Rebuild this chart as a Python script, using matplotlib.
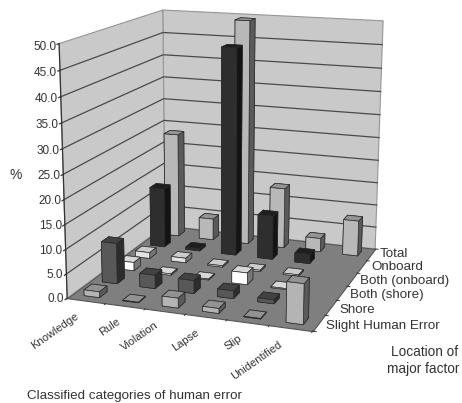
import matplotlib
matplotlib.use("Agg")
import matplotlib.pyplot as plt
import numpy as np
from mpl_toolkits.mplot3d.art3d import Poly3DCollection

plt.rcParams["font.family"] = ["Liberation Sans", "DejaVu Sans"]

W, H = 462, 403

categories = ["Knowledge", "Rule", "Violation", "Lapse", "Slip", "Unidentified"]
locations = ["Slight Human Error", "Shore", "Both (shore)", "Both (onboard)", "Onboard", "Total"]
z_ticks = [0, 5, 10, 15, 20, 25, 30, 35, 40, 45, 50]

slight = [1.2, 0.1, 2.0, 1.0, 0.1, 8.0]
shore = [8.5, 2.8, 2.7, 1.6, 0.8, 0.0]
both_shore = [1.8, 0.3, 0.2, 2.5, 0.2, 0.0]
both_onboard = [1.3, 1.0, 0.3, 0.3, 0.3, 0.0]
onboard = [13.2, 0.5, 45.0, 9.6, 2.0, 0.0]
total = [23.4, 4.8, 49.5, 13.4, 3.0, 7.8]
series = [slight, shore, both_shore, both_onboard, onboard, total]

# front, top, side shades for each location
shades = [
    ("#b4b4b4", "#929292", "#5a5a5a"),
    ("#585858", "#424242", "#2c2c2c"),
    ("#ffffff", "#d8d8d8", "#777777"),
    ("#e2e2e2", "#cccccc", "#777777"),
    ("#2e2e2e", "#1e1e1e", "#141414"),
    ("#b8b8b8", "#949494", "#5a5a5a"),
]

# chart corners in image pixels: (cat, loc, value) -> (px, py)
corners = [
    ((0, 0, 0), (67, 297)),
    ((0, 0, 50), (59, 44)),
    ((6, 0, 0), (313, 332)),
    ((6, 6, 0), (375, 248)),
    ((6, 6, 50), (383, 21)),
    ((0, 6, 0), (165, 227)),
    ((0, 6, 50), (163, 9.5)),
]


def fit_camera(pairs):
    rows = []
    for (x, y, z), (u, v) in pairs:
        rows.append([x, y, z, 1, 0, 0, 0, 0, -u * x, -u * y, -u * z, -u])
        rows.append([0, 0, 0, 0, x, y, z, 1, -v * x, -v * y, -v * z, -v])
    P = np.linalg.svd(np.array(rows, float))[2][-1].reshape(3, 4)
    if P[2] @ [3, 3, 25, 1] < 0:
        P = -P
    return P / (P[2] @ [3, 3, 25, 1])


P = fit_camera(corners)


def to_px(x, y, z):
    p = P @ [x, y, z, 1]
    return p[0] / p[2], p[1] / p[2]


fig = plt.figure(figsize=(W / 100, H / 100), dpi=100)
ax = fig.add_axes([0, 0, 1, 1], projection="3d", computed_zorder=False)
ax.set_axis_off()
ax.apply_aspect()

# pixel -> view units of the 3d axes
inv = ax.transData.inverted()
(u0, v0), (u1, v1) = inv.transform([(0, H), (100, H - 100)])
sx, sy = (u1 - u0) / 100, (v1 - v0) / 100
M = np.array([
    sx * P[0] + u0 * P[2],
    sy * P[1] + v0 * P[2],
    [0, 0, 0, -1],
    P[2],
])
ax.get_proj = lambda: M

wall = "#c9c9c9"
ax.add_collection3d(Poly3DCollection(
    [[(0, 0, 0), (0, 6, 0), (0, 6, 50), (0, 0, 50)],
     [(0, 6, 0), (6, 6, 0), (6, 6, 50), (0, 6, 50)]],
    facecolor=wall, edgecolor="#969696", linewidth=0.8, zorder=1))
ax.add_collection3d(Poly3DCollection(
    [[(0, 0, 0), (6, 0, 0), (6, 6, 0), (0, 6, 0)]],
    facecolor="#7f7f7f", edgecolor="#555555", linewidth=0.8, zorder=2))

for t in z_ticks[1:-1]:
    ax.plot([0, 0, 6], [0, 6, 6], [t, t, t], color="#4a4a4a", lw=0.9, zorder=3)
ax.plot([0, 0], [0, 0], [0, 50], color="#333333", lw=0.9, zorder=3)
for t in z_ticks:
    ax.plot([0, 0], [-0.1, 0], [t, t], color="#333333", lw=0.9, zorder=3)
for i in range(7):
    ax.plot([i, i], [0, -0.08], [0, 0], color="#333333", lw=0.7, zorder=3)
    ax.plot([6, 6.08], [i, i], [0, 0], color="#333333", lw=0.7, zorder=3)

bar_w, bar_d = 0.40, 0.42
for j in range(len(locations) - 1, -1, -1):
    front, top, side = shades[j]
    for i, val in enumerate(series[j]):
        if val <= 0:
            continue
        ax.bar3d(i + 0.5 - bar_w / 2, j + 0.5 - bar_d / 2, 0, bar_w, bar_d, val,
                 color=[top, top, front, front, side, side], shade=False,
                 edgecolor="#2a2a2a", linewidth=0.5,
                 zorder=10 + (5 - j) * 10 + i)


def label(px, py, s, **kw):
    kw.setdefault("fontsize", 8.5)
    kw.setdefault("color", "#333333")
    kw.setdefault("va", "center")
    fig.text(px / W, 1 - py / H, s, **kw)


for t in z_ticks:
    px, py = to_px(0, 0, t)
    label(px - 3, py + 1 + 2 * t / 50, f"{t:.1f}", ha="right")
label(9, 175, "%", fontsize=10)

cat_ends = [(75, 311), (116, 316), (154, 320), (195, 327), (238, 333), (278, 339)]
for (px, py), s in zip(cat_ends, categories):
    label(px, py, s, ha="right", va="top", rotation=35, rotation_mode="anchor", fontsize=8)

loc_pos = [(326, 326), (339, 310), (350, 295), (360, 281), (371, 267), (380, 254)]
for (px, py), s in zip(loc_pos, locations):
    label(px, py, s, ha="left", fontsize=9.6)

label(391, 352, "Location of", ha="left", fontsize=9.8)
label(387, 369, "major factor", ha="left", fontsize=9.8)
label(27, 396, "Classified categories of human error", ha="left", fontsize=9.6)

fig.savefig("out.png", dpi=100)
